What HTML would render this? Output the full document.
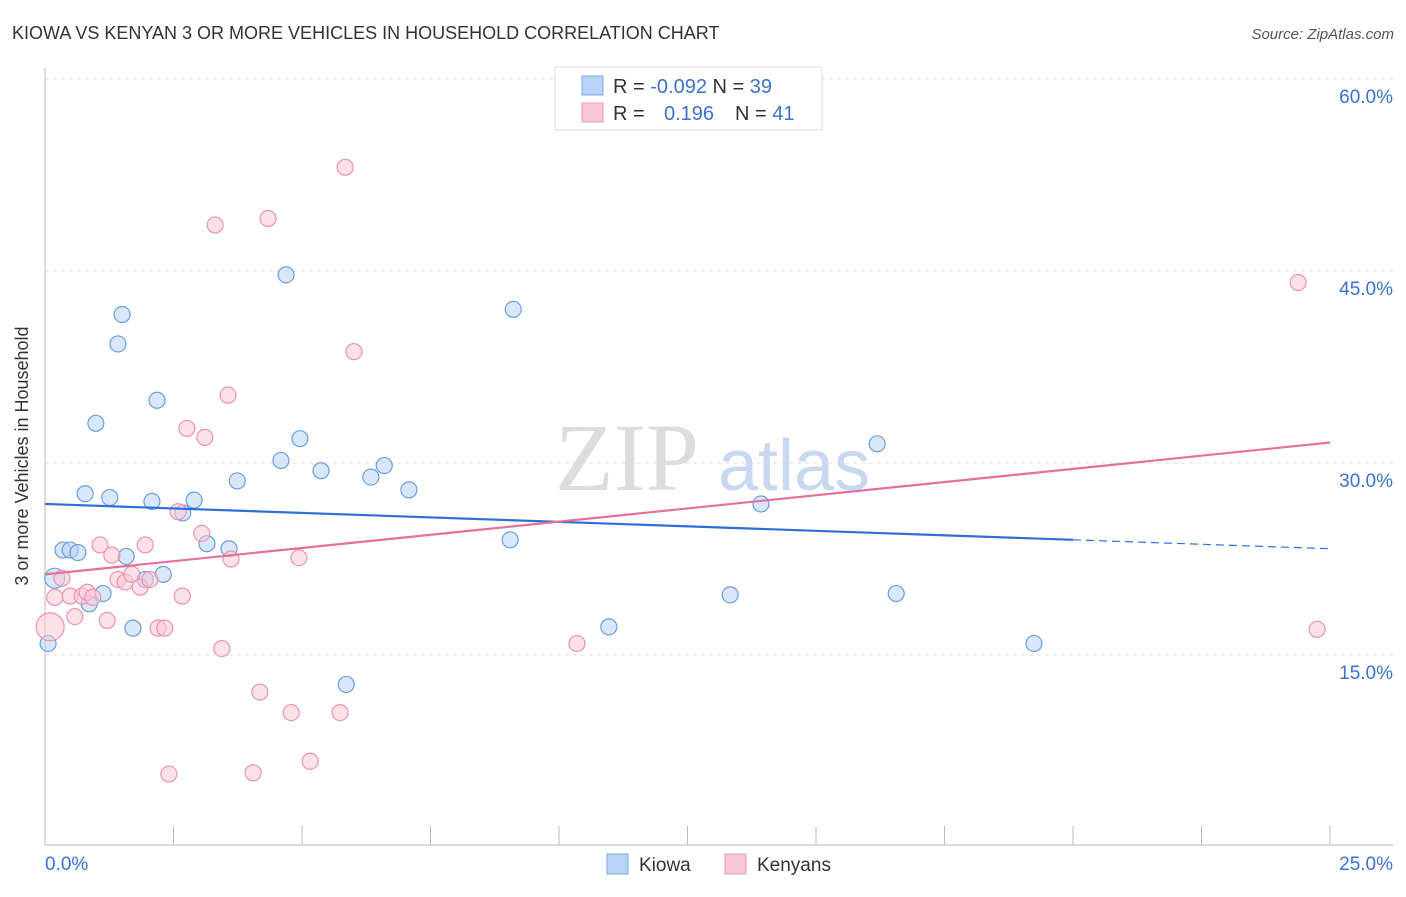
<!DOCTYPE html>
<html><head><meta charset="utf-8"><style>
body{margin:0;background:#fff;font-family:"Liberation Sans",sans-serif;}
</style></head><body>
<svg id="c" width="1406" height="892" xmlns="http://www.w3.org/2000/svg">
<text x="12" y="39" font-size="18" fill="#333">KIOWA VS KENYAN 3 OR MORE VEHICLES IN HOUSEHOLD CORRELATION CHART</text>
<text x="1394" y="39" font-size="15" fill="#555" font-style="italic" text-anchor="end">Source: ZipAtlas.com</text>
<text x="28" y="456" font-size="18" fill="#333" text-anchor="middle" transform="rotate(-90 28 456)">3 or more Vehicles in Household</text>
<text x="555" y="490" font-size="96" fill="#ddd" font-family="Liberation Serif,serif">ZIP</text>
<text x="718" y="490" font-size="72" fill="#c8d8f0">atlas</text>
<g id="grid"></g><g id="marks"></g>
<g>
<rect x="555" y="67" width="267" height="63" fill="#fff" stroke="#ddd"/>
<rect x="582" y="76" width="21" height="19" fill="#b8d3f5" stroke="#7aa8e6"/>
<rect x="582" y="103" width="21" height="19" fill="#f9c8d6" stroke="#ef9ab4"/>
<text x="613" y="93" font-size="20" fill="#333">R = <tspan fill="#3b72d0">-0.092</tspan>   N = <tspan fill="#3b72d0">39</tspan></text>
<text x="613" y="120" font-size="20" fill="#333">R = <tspan fill="#3b72d0" x="664">0.196</tspan><tspan x="735">N = </tspan><tspan fill="#3b72d0">41</tspan></text>
</g>
<g>
<rect x="607" y="854" width="21" height="20" fill="#b8d3f5" stroke="#7aa8e6"/>
<text x="639" y="871" font-size="19" fill="#333">Kiowa</text>
<rect x="725" y="854" width="21" height="20" fill="#f9c8d6" stroke="#ef9ab4"/>
<text x="757" y="871" font-size="19" fill="#333">Kenyans</text>
</g>
</svg>
<script>
const yTicks=[15,30,45,60];
const xTickLabels=["0.0%","25.0%"];
const kiowaX=[0.19,0.35,0.49,0.64,0.06,0.78,0.86,0.99,1.13,1.26,1.42,1.50,1.58,1.71,1.95,2.08,2.18,2.30,2.68,2.90,3.15,3.58,3.74,4.59,4.69,4.96,5.37,5.86,6.34,6.60,7.08,9.05,9.11,10.97,13.33,13.93,16.19,16.56,19.24];
const kiowaY=[21.0,23.2,23.2,23.0,15.9,27.6,19.0,33.1,19.8,27.3,39.3,41.6,22.7,17.1,20.9,27.0,34.9,21.3,26.1,27.1,23.7,23.3,28.6,30.2,44.7,31.9,29.4,12.7,28.9,29.8,27.9,24.0,42.0,17.2,19.7,26.8,31.5,19.8,15.9];
const kenX=[0.10,0.19,0.33,0.58,0.49,0.72,0.82,0.93,1.07,1.21,1.30,1.42,1.56,1.69,1.85,1.95,2.04,2.20,2.33,2.41,2.59,2.67,2.76,3.05,3.11,3.31,3.44,3.56,3.62,4.05,4.18,4.34,4.79,4.94,5.16,5.74,5.84,6.01,10.35,24.38,24.75];
const kenY=[17.2,19.5,21.0,18.0,19.6,19.6,19.9,19.5,23.6,17.7,22.8,20.9,20.7,21.3,20.3,23.6,20.9,17.1,17.1,5.7,26.2,19.6,32.7,24.5,32.0,48.6,15.5,35.3,22.5,5.8,12.1,49.1,10.5,22.6,6.7,10.5,53.1,38.7,15.9,44.1,17.0];
const kiowaTrend=[26.8,23.3];
const kenTrend=[21.3,31.6];
const NS="http://www.w3.org/2000/svg";
const xs=v=>45+v*51.4, ys=v=>847-v*12.8;
function mk(t,a,p){const e=document.createElementNS(NS,t);for(const k in a)e.setAttribute(k,a[k]);p.appendChild(e);return e;}
const g=document.getElementById('grid'),m=document.getElementById('marks');
yTicks.forEach(t=>{
 const l=mk('line',{x1:45,x2:1393,y1:ys(t),y2:ys(t),stroke:'#ddd','stroke-dasharray':'4,4'},g);
 
 
 const tx=mk('text',{x:1393,y:ys(t)+24,'font-size':19,fill:'#3b72d0','text-anchor':'end'},g);tx.textContent=t.toFixed(1)+'%';
 
 
});
mk('line',{x1:45,x2:45,y1:68,y2:845,stroke:'#bbb'},g);
mk('line',{x1:45,x2:1393,y1:845,y2:845,stroke:'#bbb'},g);
for(let i=0;i<=10;i++){mk('line',{x1:xs(i*2.5),x2:xs(i*2.5),y1:826,y2:845,stroke:'#bbb'},g);}
[[0,'start',45],[1,'end',1393]].forEach(([i,a,x])=>{const t=mk('text',{x:x,y:870,'font-size':19,fill:'#3b72d0','text-anchor':a},g);t.textContent=xTickLabels[i];
 
 });
function dots(X,Y,fill,stroke,name){X.forEach((x,i)=>{const c=mk('circle',{cx:xs(x),cy:ys(Y[i]),r:i==0?(name=='kenyan-point'?14:10):8,fill:fill,'fill-opacity':0.55,stroke:stroke,'stroke-width':1.2},m);
 
 });}
dots(kiowaX,kiowaY,'#b8d3f5','#6c9de0','kiowa-point');
dots(kenX,kenY,'#f9c8d6','#ec93b0','kenyan-point');
const yb=x=>kiowaTrend[0]+(kiowaTrend[1]-kiowaTrend[0])*x/25;
let l1=mk('line',{x1:xs(0),y1:ys(yb(0)),x2:xs(20),y2:ys(yb(20)),stroke:'#2f6fd6','stroke-width':2.2},m);


let l2=mk('line',{x1:xs(20),y1:ys(yb(20)),x2:xs(25),y2:ys(yb(25)),stroke:'#2f6fd6','stroke-width':1.2,'stroke-dasharray':'8,5'},m);


let l3=mk('line',{x1:xs(0),y1:ys(kenTrend[0]),x2:xs(25),y2:ys(kenTrend[1]),stroke:'#e4719a','stroke-width':2.2},m);


</script>
</body></html>
